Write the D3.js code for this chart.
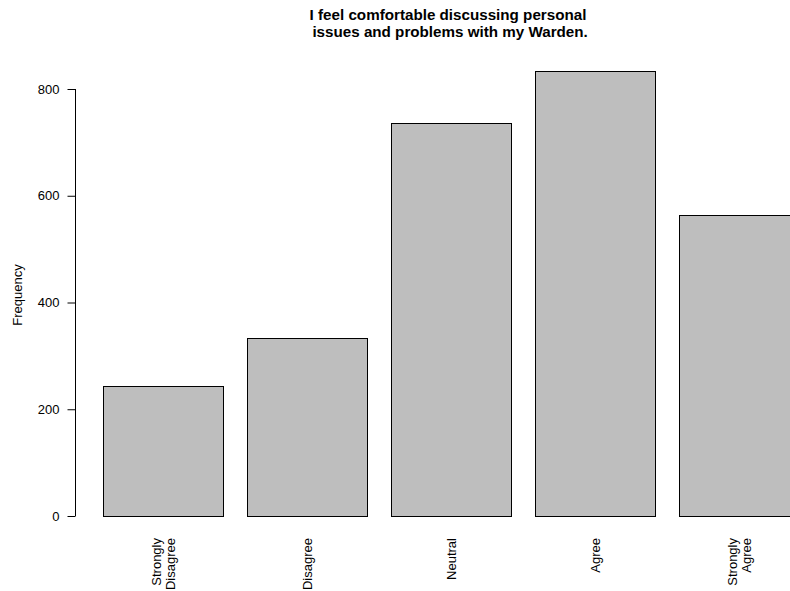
<!DOCTYPE html>
<html><head><meta charset="utf-8">
<script src="https://cdn.jsdelivr.net/npm/d3@7"></script>
<style>body{margin:0;background:#fff}svg{display:block}text{font-family:"Liberation Sans",Arial,sans-serif}</style>
</head><body>
<script>
const categories = [["Strongly","Disagree"],["Disagree"],["Neutral"],["Agree"],["Strongly","Agree"]];
const values = [243, 333, 736, 833, 564];
const yTicks = [0, 200, 400, 600, 800];
const titleLines = ["I feel comfortable discussing personal", " issues and problems with my Warden."];

const W = 790, H = 591;
const FS = 13;
const svg = d3.select("body").append("svg").attr("width", W).attr("height", H);
const keys = categories.map((c,i)=>i);
const x = d3.scaleBand().domain(keys).range([103, 799]).paddingInner(1/6).paddingOuter(0);
const y = d3.scaleLinear().domain([0, 800]).range([516, 89]);

svg.append("g").selectAll("rect").data(values).join("rect")
  .attr("x", (d,i)=>x(i)+0.5).attr("y", d=>Math.round(y(d))+0.5)
  .attr("width", x.bandwidth()).attr("height", d=>y(0)-Math.round(y(d)))
  .attr("fill", "#bebebe").attr("stroke", "#000").attr("stroke-width", 1);

const ya = svg.append("g").attr("transform", "translate(75.5,0)")
  .call(d3.axisLeft(y).tickValues(yTicks).tickSize(8).tickPadding(8).tickFormat(d3.format("d")));
ya.select(".domain").attr("d", `M0,${y(0)}V${y(800)}`).attr("stroke","#000");
ya.selectAll("line").attr("stroke","#000");
ya.selectAll("text").attr("font-size", FS).attr("fill","#000").attr("font-family","Liberation Sans, Arial, sans-serif");

const xl = svg.append("g");
categories.forEach((lines, i) => {
  const cx = x(i) + x.bandwidth()/2;
  const n = lines.length;
  lines.forEach((t, j) => {
    const off = (j - (n-1)/2) * 14;
    xl.append("text")
      .attr("transform", `translate(${cx + off + 5},538) rotate(-90)`)
      .attr("text-anchor", "end").attr("font-size", FS).attr("fill","#000").text(t);
  });
});

svg.append("text").attr("transform","translate(22,295) rotate(-90)")
  .attr("text-anchor","middle").attr("font-size",FS).text("Frequency");

titleLines.forEach((t,i)=>{
  svg.append("text").attr("x", 448).attr("y", 20 + i*17).attr("text-anchor","middle")
    .attr("font-size", 15.2).attr("font-weight","bold").attr("xml:space","preserve").style("white-space","pre").text(t);
});
</script>
</body></html>
